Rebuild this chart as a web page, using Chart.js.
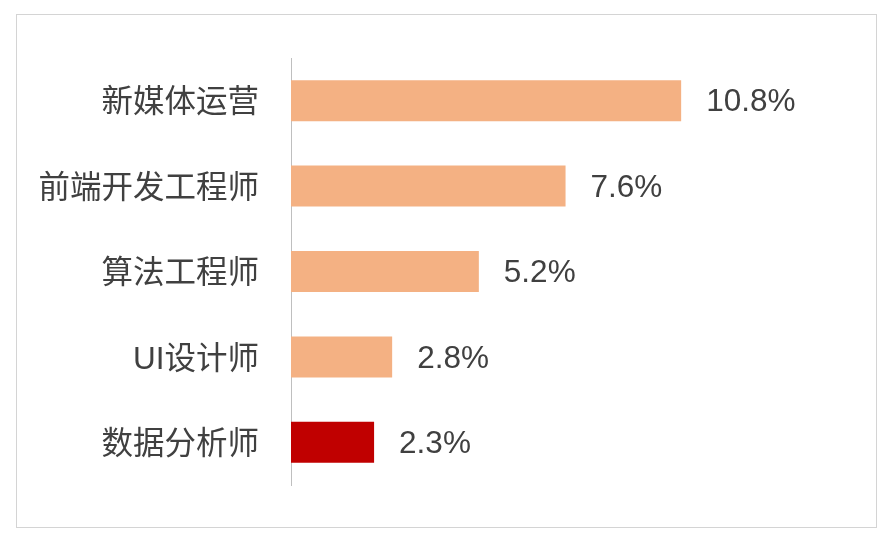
<!DOCTYPE html>
<html>
<head>
<meta charset="utf-8">
<script src="https://cdn.jsdelivr.net/npm/chart.js@4"></script>
<style>
  body { margin: 0; background: #fff; }
  #wrap { position: relative; width: 894px; height: 542px; }
  #frame { position: absolute; left: 16px; top: 14px; width: 861px; height: 514px; border: 1px solid #d4d4d4; box-sizing: border-box; }
  canvas { position: absolute; left: 0; top: 0; }
</style>
</head>
<body>
<div id="wrap">
  <div id="frame"></div>
  <canvas id="jobChart" width="894" height="542"></canvas>
</div>
<script>
// Job titles and their share (%)
const jobs = ['新媒体运营', '前端开发工程师', '算法工程师', 'UI设计师', '数据分析师'];
const shares = [10.8, 7.6, 5.2, 2.8, 2.3];
const barColors = ['#F4B183', '#F4B183', '#F4B183', '#F4B183', '#C00000'];

const FONT = '"Liberation Sans", "Noto Sans CJK SC", sans-serif';

// Draw the percentage next to each bar
const valueLabels = {
  id: 'valueLabels',
  afterDatasetsDraw (chart) {
    const ctx = chart.ctx;
    const meta = chart.getDatasetMeta(0);
    ctx.save();
    ctx.font = '31.5px ' + FONT;
    ctx.fillStyle = '#404040';
    ctx.textAlign = 'left';
    ctx.textBaseline = 'middle';
    meta.data.forEach((bar, i) => {
      ctx.fillText(shares[i].toFixed(1) + '%', bar.x + 25, bar.y + 2);
    });
    ctx.restore();
  }
};

const ctx = document.getElementById('jobChart').getContext('2d');
const jobChart = new Chart(ctx, {
  type: 'bar',
  data: {
    labels: jobs,
    datasets: [{
      data: shares,
      backgroundColor: barColors,
      borderWidth: 0,
      categoryPercentage: 1,
      barPercentage: 0.48
    }]
  },
  options: {
    indexAxis: 'y',
    responsive: false,
    animation: false,
    layout: { padding: { top: 58, bottom: 57, left: 0, right: 25 } },
    plugins: {
      legend: { display: false },
      tooltip: { enabled: false }
    },
    scales: {
      x: {
        display: false,
        min: 0,
        max: 16
      },
      y: {
        afterFit (scale) { scale.width = 291; },
        grid: { display: true, drawOnChartArea: false, drawTicks: false },
        border: { display: true, color: '#bfbfbf', width: 1 },
        ticks: {
          padding: 32,
          labelOffset: 3,
          color: '#404040',
          font: { family: FONT, size: 31.5 }
        }
      }
    }
  },
  plugins: [valueLabels]
});
</script>
</body>
</html>
